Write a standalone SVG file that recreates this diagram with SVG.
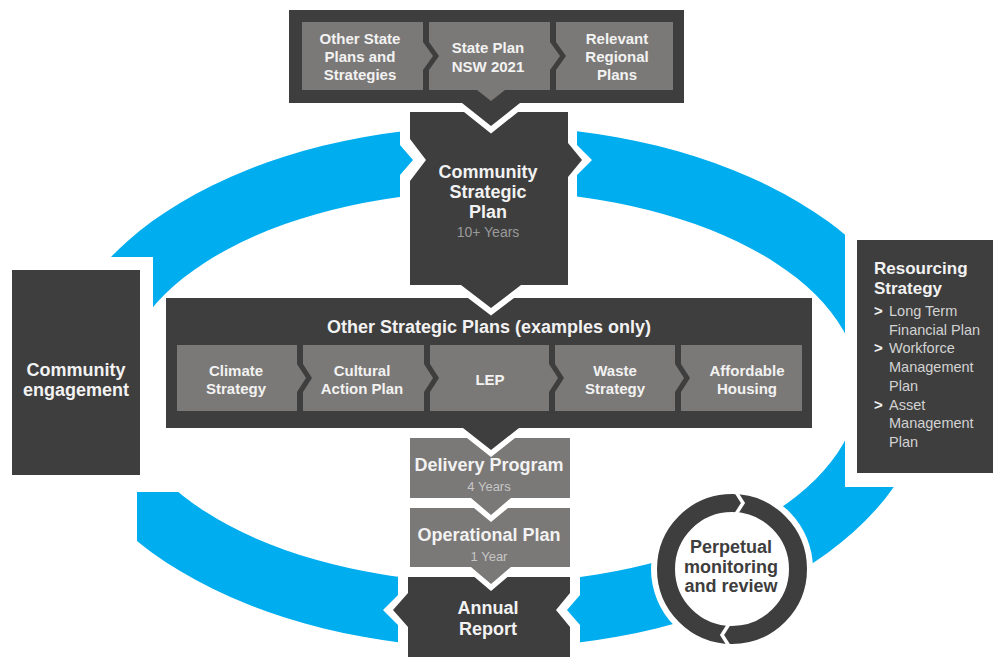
<svg xmlns="http://www.w3.org/2000/svg" width="993" height="657" viewBox="0 0 993 657">
<style>
.dark{fill:#3e3e3e}
.grey{fill:#7b7977}
.blue{fill:#00adef}
text{font-family:"Liberation Sans",Arial,sans-serif}
.t{fill:#f2f2f2;font-weight:bold;text-anchor:middle}
.s15{font-size:15px}
.s18{font-size:18px}
.sub{font-weight:normal;text-anchor:middle;font-size:14px}
.rs{fill:#d2d2d2;font-size:14.5px}
.gt{fill:#f2f2f2;font-weight:bold;font-size:15px}
</style>
<defs>
<path id="ring" fill-rule="evenodd" d="M53,387 A437,261 0 1,1 927,387 A437,261 0 1,1 53,387 Z M121,387 A369,196 0 1,1 859,387 A369,196 0 1,1 121,387 Z"/>
<clipPath id="c-tl"><path d="M60,0 H400 V145 L413,160 L400,175 V390 H153 V257 H60 Z"/></clipPath>
<clipPath id="c-tr"><path d="M577,0 H845 V390 H577 V175 L592,160 L577,145 Z"/></clipPath>
<clipPath id="c-br"><path d="M580,390 H845 V487 H993 V700 H580 V625 L567,610 L580,595 Z"/></clipPath>
<clipPath id="c-bl"><path d="M137,492 H398 V595 L383,610 L398,625 V700 H137 Z"/></clipPath>
</defs>

<g id="connectors">
<use href="#ring" class="blue" clip-path="url(#c-tl)"/>
<use href="#ring" class="blue" clip-path="url(#c-tr)"/>
<use href="#ring" class="blue" clip-path="url(#c-br)"/>
<use href="#ring" class="blue" clip-path="url(#c-bl)"/>
</g>

<g id="state-plans">
<path class="dark" d="M289,10 H684 V103 H520 L491,126 L462,103 H289 Z"/>
<path class="grey" d="M302,22 H423 V42 L433,56 L423,70 V90 H302 Z"/>
<path class="grey" d="M429,22 H550 V42 L560,56 L550,70 V90 H505 L491,101 L477,90 H429 V70 L439,56 L429,42 Z"/>
<path class="grey" d="M556,22 H673 V90 H556 V70 L566,56 L556,42 Z"/>
<text class="t s15" x="360" y="44">Other State</text>
<text class="t s15" x="360" y="62">Plans and</text>
<text class="t s15" x="360" y="80">Strategies</text>
<text class="t s15" x="488" y="53">State Plan</text>
<text class="t s15" x="488" y="72">NSW 2021</text>
<text class="t s15" x="617" y="44">Relevant</text>
<text class="t s15" x="617" y="62">Regional</text>
<text class="t s15" x="617" y="80">Plans</text>
</g>

<g id="csp">
<path class="dark" d="M410,112 H464 L491,133.5 L518,112 H568 V143 L582,160 L568,177 V285 H521 L491,308 L461,285 H410 V181 L426,160 L410,139 Z"/>
<text class="t s18" x="488" y="178">Community</text>
<text class="t s18" x="488" y="198">Strategic</text>
<text class="t s18" x="488" y="218">Plan</text>
<text class="sub" x="488" y="237" fill="#9a9a9a">10+ Years</text>
</g>

<g id="other-plans">
<path class="dark" d="M166,298 H468 L491,315.5 L514,298 H812 V428 H519 L491,450 L463,428 H166 Z"/>
<text class="t s18" x="489" y="333">Other Strategic Plans (examples only)</text>
<path class="grey" d="M177,345 H297 V364 L306,378 L297,392 V411 H177 Z"/>
<path class="grey" d="M303,345 H424 V364 L433,378 L424,392 V411 H303 V392 L312,378 L303,364 Z"/>
<path class="grey" d="M430,345 H549 V364 L558,378 L549,392 V411 H430 V392 L439,378 L430,364 Z"/>
<path class="grey" d="M555,345 H675 V364 L684,378 L675,392 V411 H555 V392 L564,378 L555,364 Z"/>
<path class="grey" d="M681,345 H802 V411 H681 V392 L690,378 L681,364 Z"/>
<text class="t s15" x="236" y="376">Climate</text>
<text class="t s15" x="236" y="394">Strategy</text>
<text class="t s15" x="362" y="376">Cultural</text>
<text class="t s15" x="362" y="394">Action Plan</text>
<text class="t s15" x="490" y="385">LEP</text>
<text class="t s15" x="615" y="376">Waste</text>
<text class="t s15" x="615" y="394">Strategy</text>
<text class="t s15" x="747" y="376">Affordable</text>
<text class="t s15" x="747" y="394">Housing</text>
</g>

<g id="delivery">
<path class="grey" d="M410,438 H467 L491,457 L515,438 H570 V498 H511 L491,515 L471,498 H410 Z"/>
<text class="t s18" x="489" y="471">Delivery Program</text>
<text class="sub" x="489" y="491" fill="#c6c6c6" style="font-size:13px">4 Years</text>
</g>

<g id="operational">
<path class="grey" d="M410,508 H474 L491,522 L508,508 H570 V567 H511 L491,584 L471,567 H410 Z"/>
<text class="t s18" x="489" y="541">Operational Plan</text>
<text class="sub" x="489" y="561" fill="#c6c6c6" style="font-size:13px">1 Year</text>
</g>

<g id="annual">
<path class="dark" d="M408,577 H474.5 L491,591 L507.5,577 H570 V593 L556,610 L570,627 V657 H408 V627 L393,610 L408,593 Z"/>
<text class="t s18" x="488" y="614">Annual</text>
<text class="t s18" x="488" y="635">Report</text>
</g>

<g id="community-engagement">
<rect class="dark" x="12" y="270" width="128" height="205"/>
<text class="t s18" x="76" y="376">Community</text>
<text class="t s18" x="76" y="396">engagement</text>
</g>

<g id="resourcing">
<rect class="dark" x="857" y="240" width="136" height="233"/>
<text class="gt" x="874" y="274" style="font-size:17px">Resourcing</text>
<text class="gt" x="874" y="294" style="font-size:17px">Strategy</text>
<text class="gt" x="874" y="316">&gt;</text>
<text class="rs" x="889" y="316">Long Term</text>
<text class="rs" x="889" y="335">Financial Plan</text>
<text class="gt" x="874" y="353">&gt;</text>
<text class="rs" x="889" y="353">Workforce</text>
<text class="rs" x="889" y="372">Management</text>
<text class="rs" x="889" y="391">Plan</text>
<text class="gt" x="874" y="410">&gt;</text>
<text class="rs" x="889" y="410">Asset</text>
<text class="rs" x="889" y="428">Management</text>
<text class="rs" x="889" y="447">Plan</text>
</g>

<g id="monitoring">
<circle cx="732" cy="569" r="81" fill="#fff"/>
<circle cx="732" cy="569" r="66" fill="none" stroke="#3e3e3e" stroke-width="18"/>
<polyline points="736,492 743,503 736,514" fill="none" stroke="#fff" stroke-width="3.5"/>
<polyline points="729,646 722,635 729,624" fill="none" stroke="#fff" stroke-width="3.5"/>
<text x="731" y="553" text-anchor="middle" font-weight="bold" font-size="18" fill="#3e3e3e">Perpetual</text>
<text x="731" y="573" text-anchor="middle" font-weight="bold" font-size="18" fill="#3e3e3e">monitoring</text>
<text x="731" y="592" text-anchor="middle" font-weight="bold" font-size="18" fill="#3e3e3e">and review</text>
</g>
</svg>
